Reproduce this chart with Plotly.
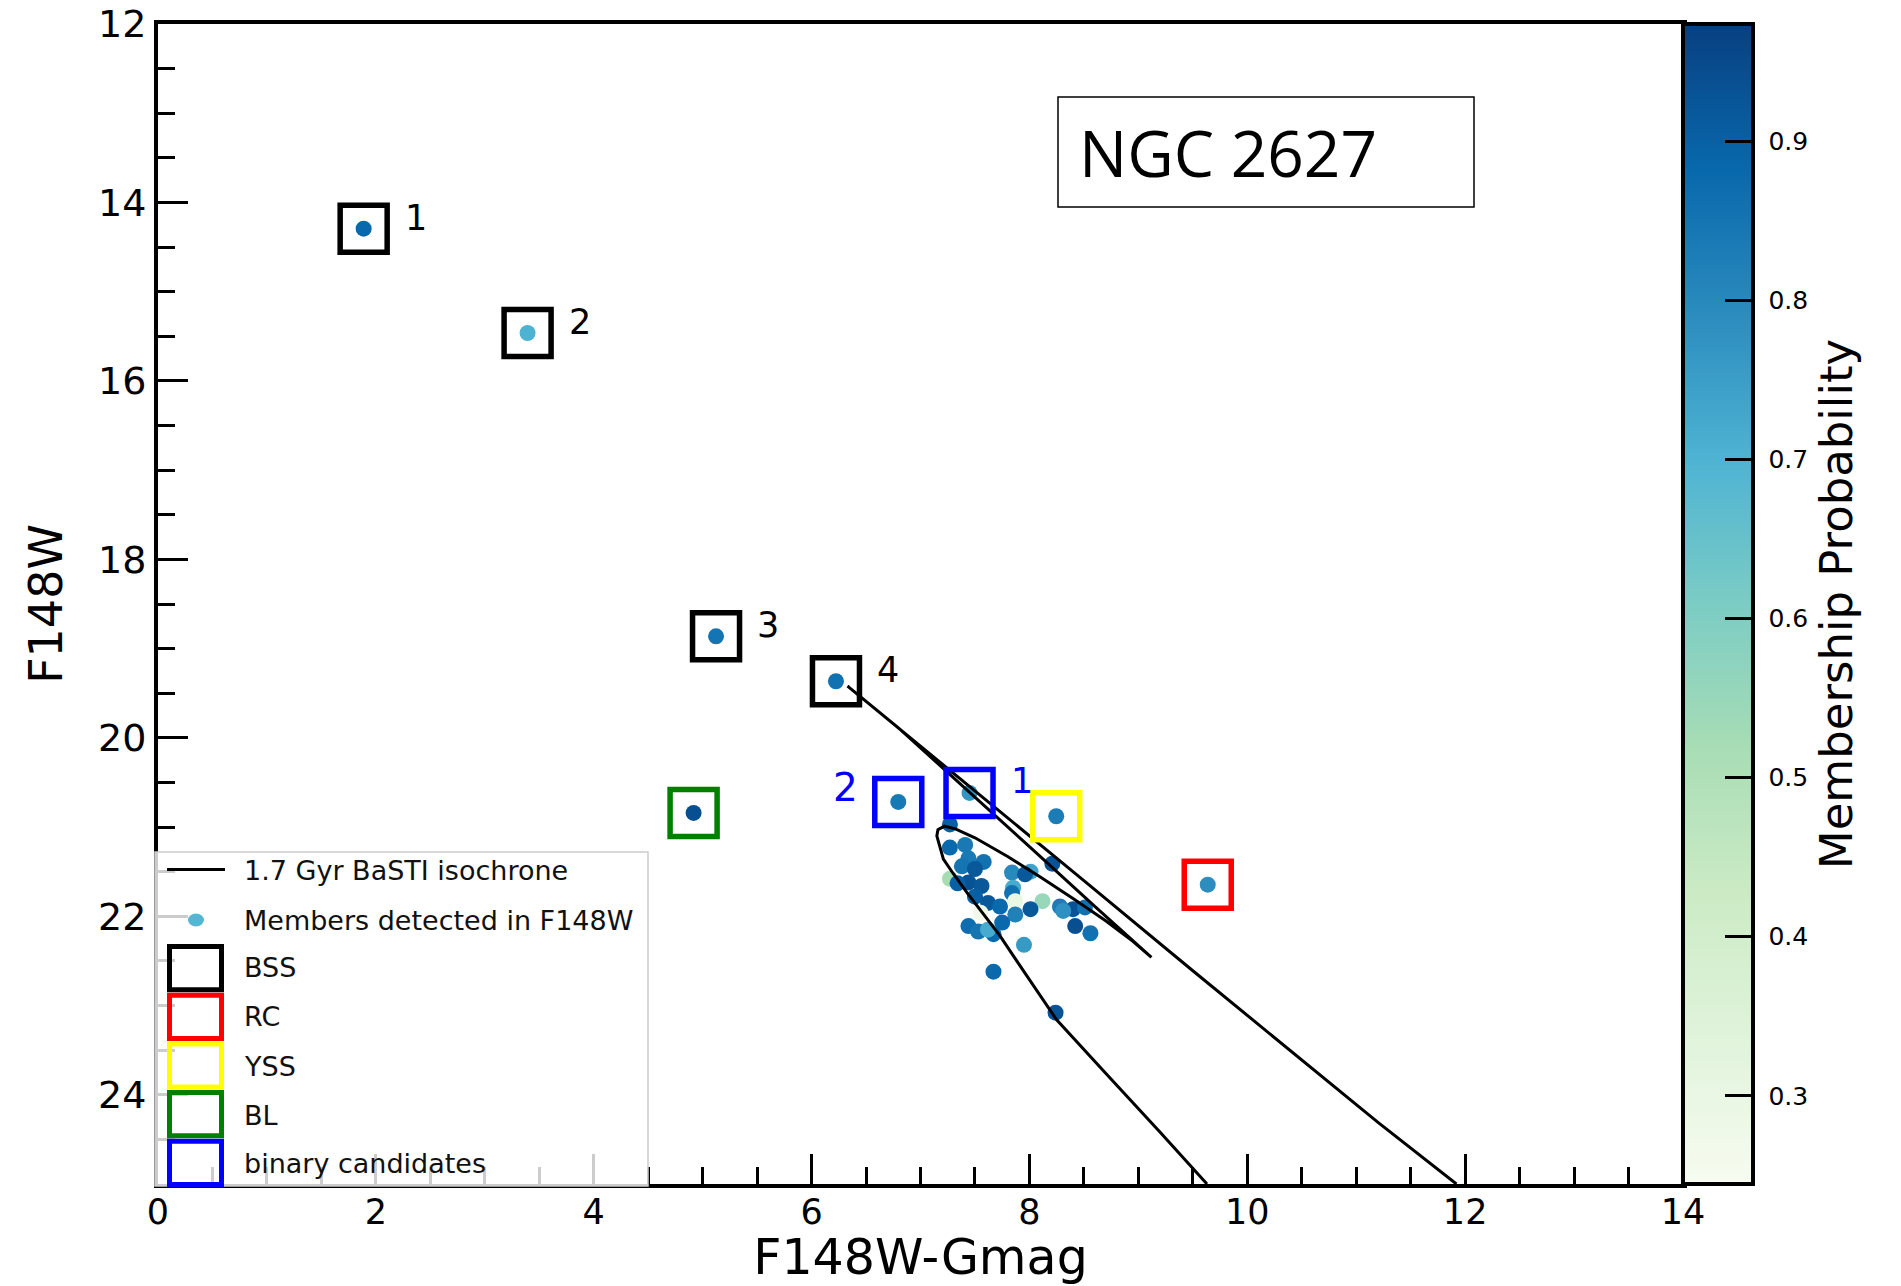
import plotly.graph_objects as go

# ---------------- data ----------------
# cluster members (main sequence / turn-off region)
ms_x = [7.27, 7.27, 7.41, 7.44, 7.58, 7.38, 7.50, 7.27, 7.44, 7.34, 7.56, 7.84, 8.01, 7.96,
        8.21, 7.85, 7.84, 7.50, 7.62, 7.73, 7.87, 8.12, 8.01, 8.28, 8.40, 8.51, 8.31, 7.87,
        7.75, 7.55, 7.44, 7.53, 7.67, 7.62, 8.42, 8.56, 7.95, 7.67, 8.24]
ms_y = [20.97, 21.23, 21.20, 21.35, 21.39, 21.44, 21.47, 21.58, 21.62, 21.63, 21.66, 21.51, 21.50, 21.53,
        21.41, 21.68, 21.74, 21.78, 21.85, 21.89, 21.83, 21.83, 21.92, 21.89, 21.92, 21.90, 21.94, 21.98,
        22.07, 21.96, 22.11, 22.17, 22.20, 22.15, 22.11, 22.19, 22.32, 22.62, 23.08]
ms_p = [0.90, 0.88, 0.84, 0.84, 0.86, 0.85, 0.92, 0.52, 0.93, 0.90, 0.92, 0.80, 0.74, 0.92,
        0.93, 0.72, 0.86, 0.90, 0.92, 0.88, 0.30, 0.55, 0.92, 0.83, 0.93, 0.86, 0.78, 0.82,
        0.88, 0.27, 0.87, 0.85, 0.88, 0.72, 0.94, 0.86, 0.76, 0.88, 0.93]

# special populations
bss_x = [1.888, 3.393, 5.123, 6.224]
bss_y = [14.294, 15.463, 18.862, 19.366]
bss_p = [0.88, 0.70, 0.85, 0.86]
bss_lab = ["1", "2", "3", "4"]

rc_x = [9.637]
rc_y = [21.645]
rc_p = [0.79]

yss_x = [8.246]
yss_y = [20.879]
yss_p = [0.83]

bl_x = [4.917]
bl_y = [20.841]
bl_p = [0.94]

bin_x = [7.450, 6.796]
bin_y = [20.617, 20.718]
bin_p = [0.77, 0.84]
bin_lab = ["1", "2"]

# 1.7 Gyr BaSTI isochrone
iso_x = [9.63, 9.20, 8.70, 8.25, 7.95, 7.73, 7.55, 7.43, 7.30, 7.21, 7.15, 7.16, 7.22, 7.32,
         7.50, 7.80, 8.10, 8.40, 8.70, 8.95, 9.12, 8.60, 8.00, 7.40, 6.80, 6.33,
         6.80, 7.50, 8.50, 9.50, 10.50, 11.20, 11.92]
iso_y = [25.00, 24.42, 23.76, 23.16, 22.62, 22.22, 21.93, 21.74, 21.52, 21.36, 21.10, 21.03, 20.99, 21.02,
         21.12, 21.33, 21.56, 21.80, 22.05, 22.28, 22.46, 21.89, 21.22, 20.56, 19.89, 19.42,
         19.89, 20.60, 21.60, 22.61, 23.61, 24.31, 25.00]

cmin, cmax = 0.2445, 0.974
cb_ticks = [0.3, 0.4, 0.5, 0.6, 0.7, 0.8, 0.9]

GnBu = [[0.0, "rgb(247,252,240)"], [0.125, "rgb(224,243,219)"], [0.25, "rgb(204,235,197)"],
        [0.375, "rgb(168,221,181)"], [0.5, "rgb(123,204,196)"], [0.625, "rgb(78,179,211)"],
        [0.75, "rgb(43,140,190)"], [0.875, "rgb(8,104,172)"], [1.0, "rgb(8,64,129)"]]

# ---------------- figure ----------------
FW, FH = 1901, 1286
L, R, T, B = 158, 1683, 24, 1184
W, H = R - L, B - T


def px(X):
    return (X - L) / W


def py(Y):
    return (B - Y) / H


all_x = ms_x + bss_x + rc_x + yss_x + bl_x + bin_x
all_y = ms_y + bss_y + rc_y + yss_y + bl_y + bin_y
all_p = ms_p + bss_p + rc_p + yss_p + bl_p + bin_p

FONT = "DejaVu Sans"

fig = go.Figure()

fig.add_trace(go.Scatter(
    x=all_x, y=all_y, mode="markers", name="Members detected in F148W",
    marker=dict(size=16, color=all_p, colorscale=GnBu, cmin=cmin, cmax=cmax,
                line=dict(width=0),
                colorbar=dict(
                    thickness=70, len=1, lenmode="fraction", y=0.5, yanchor="middle", ypad=0,
                    x=1, xanchor="left", xpad=0,
                    outlinewidth=4, outlinecolor="black",
                    tickmode="array", tickvals=cb_ticks, ticktext=[f" {v:.1f}" for v in cb_ticks],
                    ticks="inside", ticklen=30, tickwidth=3, tickcolor="black",
                    tickfont=dict(family=FONT, size=25, color="black"),
                    title=dict(text="Membership Probability", side="right",
                               font=dict(family=FONT, size=45, color="black")),
                )),
    showlegend=False,
))

fig.add_trace(go.Scatter(x=iso_x, y=iso_y, mode="lines", name="1.7 Gyr BaSTI isochrone",
                         line=dict(color="black", width=3), showlegend=False))

box_sets = [("BSS", bss_x, bss_y, "black"), ("RC", rc_x, rc_y, "#ff0000"),
            ("YSS", yss_x, yss_y, "#ffff00"), ("BL", bl_x, bl_y, "#008000"),
            ("binary candidates", bin_x, bin_y, "#0000ff")]
for name, bx, by, col in box_sets:
    fig.add_trace(go.Scatter(x=bx, y=by, mode="markers", name=name,
                             marker=dict(symbol="square-open", size=47, color=col,
                                         line=dict(width=5.5, color=col)),
                             showlegend=False))

annotations = []
for lx, ly, lt in zip(bss_x, bss_y, bss_lab):
    annotations.append(dict(x=lx, y=ly, text=lt, showarrow=False, xshift=52, yshift=11,
                            font=dict(family=FONT, size=35, color="black")))
bin_shift = [(52, 12, 35), (-53, 14, 39)]
for (lx, ly, lt), (xs, ys, fs) in zip(zip(bin_x, bin_y, bin_lab), bin_shift):
    annotations.append(dict(x=lx, y=ly, text=lt, showarrow=False, xshift=xs, yshift=ys,
                            font=dict(family=FONT, size=fs, color="#0000ff")))

# NGC 2627 label box
shapes = [dict(type="rect", xref="paper", yref="paper", x0=px(1058), x1=px(1474), y0=py(207), y1=py(97),
               line=dict(color="black", width=1.5), fillcolor="white", layer="above")]
annotations.append(dict(xref="paper", yref="paper", x=px(1077), y=py(153), xanchor="left", yanchor="middle",
                        text="NGC 2627", showarrow=False,
                        font=dict(family="Open Sans", size=64, color="black")))

# custom legend (frame + symbols + labels)
shapes.append(dict(type="rect", xref="paper", yref="paper", x0=px(155), x1=px(648), y0=py(1186), y1=py(852),
                   line=dict(color="#cccccc", width=1.5), fillcolor="rgba(255,255,255,0.8)", layer="above"))
shapes.append(dict(type="line", xref="paper", yref="paper", x0=px(167), x1=px(225), y0=py(869.5), y1=py(869.5),
                   line=dict(color="black", width=3), layer="above"))
shapes.append(dict(type="circle", xref="paper", yref="paper", x0=px(188), x1=px(204), y0=py(926.5), y1=py(913.5),
                   line=dict(width=0), fillcolor="#55b6d4", layer="above"))
row_top, row_h = 944, 48.7
for i, (name, bx, by, col) in enumerate(box_sets):
    top = row_top + row_h * i
    shapes.append(dict(type="rect", xref="paper", yref="paper", x0=px(169.5), x1=px(221.5),
                       y0=py(top + 45.7), y1=py(top + 2.5),
                       line=dict(color=col, width=5), fillcolor="rgba(0,0,0,0)", layer="above"))

leg_labels = ["1.7 Gyr BaSTI isochrone", "Members detected in F148W"] + [b[0] for b in box_sets]
leg_y = [870, 920, 967.7, 1016.7, 1066, 1115, 1163]
for lt, ly in zip(leg_labels, leg_y):
    annotations.append(dict(xref="paper", yref="paper", x=px(242), y=py(ly), xanchor="left", yanchor="middle",
                            text=lt, showarrow=False, font=dict(family=FONT, size=27, color="#111111")))

axis_common = dict(showgrid=False, zeroline=False, showline=True, linewidth=4, linecolor="black", mirror=True,
                   ticks="inside", ticklen=30, tickwidth=3, tickcolor="black")

fig.update_layout(
    width=FW, height=FH,
    margin=dict(l=L, r=FW - R, t=T, b=FH - B, autoexpand=False),
    paper_bgcolor="white", plot_bgcolor="white",
    showlegend=False,
    xaxis=dict(range=[0, 14], tick0=0, dtick=2,
               minor=dict(tick0=0, dtick=0.5, ticks="inside", ticklen=17, tickwidth=2.5, tickcolor="black"),
               tickfont=dict(family=FONT, size=35, color="black"), ticklabelstandoff=-6,
               title=dict(text="F148W-Gmag", font=dict(family=FONT, size=49, color="black"), standoff=16),
               **axis_common),
    yaxis=dict(range=[25, 12], tick0=12, dtick=2,
               minor=dict(tick0=12, dtick=0.5, ticks="inside", ticklen=17, tickwidth=2.5, tickcolor="black"),
               tickfont=dict(family=FONT, size=38, color="black"),
               title=dict(text="F148W", font=dict(family=FONT, size=46, color="black"), standoff=22),
               **axis_common),
    shapes=shapes,
    annotations=annotations,
)

fig.write_html("out.html")
